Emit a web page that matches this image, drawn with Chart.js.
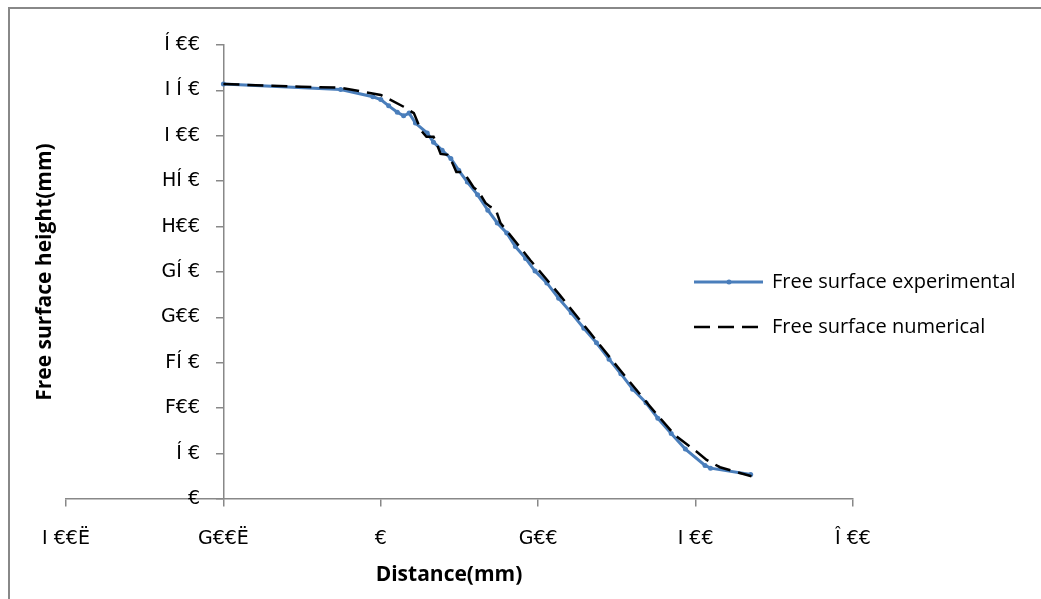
<!DOCTYPE html>
<html>
<head>
<meta charset="utf-8">
<script src="https://cdn.jsdelivr.net/npm/chart.js@4.4.1/dist/chart.umd.min.js"></script>
<style>
  html, body { margin: 0; padding: 0; background: #fff; }
  #wrap { position: relative; width: 1041px; height: 599px; }
</style>
</head>
<body>
<div id="wrap"><canvas id="chart"></canvas></div>
<script>
// tick labels exactly as they appear (font-mapped glyphs)
const xTickValues = [-400, -200, 0, 200, 400, 600];
const xTickLabels = ['I €€Ë', 'G€€Ë', '€', 'G€€', 'I €€', 'Î €€'];
const yTickValues = [0, 50, 100, 150, 200, 250, 300, 350, 400, 450, 500];
const yTickLabels = ['€', 'Í €', 'F€€', 'FÍ €', 'G€€', 'GÍ €', 'H€€', 'HÍ €', 'I €€', 'I Í €', 'Í €€'];

// Free surface experimental
const expX = [-200, -51, -10, 0, 10, 21, 29, 36, 44, 59, 67, 78, 89, 99, 110, 123, 136, 148, 160, 171, 184, 196, 211, 226, 242, 258, 274, 290, 305, 320, 337, 352, 369, 387, 412, 419, 470];
const expY = [457, 451, 443, 440, 433, 426, 422, 425, 414, 403, 393, 384, 375, 362, 349, 335, 318, 304, 293, 278, 265, 251, 238, 221, 205, 188, 172, 154, 138, 121, 106, 89, 72, 55, 37, 34, 27];

// Free surface numerical
const numX = [-200, -101, -51, 0, 29, 42, 51, 58, 67, 72, 76, 85, 91, 96, 105, 112, 118, 124, 133, 139, 146, 152, 190, 228, 266, 304, 342, 374, 403, 414, 431, 471];
const numY = [457, 454, 453, 445, 432, 425, 406, 399, 399, 389, 380, 379, 370, 360, 360, 351, 343, 339, 326, 322, 319, 304, 263, 224, 183, 142, 102, 70, 51, 43, 35, 25];

const toPoints = (xs, ys) => xs.map((x, i) => ({ x: x, y: ys[i] }));

const FONT = "'Open Sans', sans-serif";
const TICK_FONT = "'DejaVu Sans', sans-serif";
const AXIS_GREY = '#888888';

const extrasPlugin = {
    id: 'extras',
    beforeDraw(chart) {
        const ctx = chart.ctx;
        ctx.save();
        ctx.fillStyle = '#ffffff';
        ctx.fillRect(0, 0, chart.width, chart.height);
        ctx.strokeStyle = AXIS_GREY;
        ctx.lineWidth = 2;
        ctx.strokeRect(9, 8, chart.width + 20, chart.height + 20);
        ctx.restore();
    },
    afterDraw(chart) {
        const ctx = chart.ctx;
        const area = chart.chartArea;
        const yScale = chart.scales.y;

        // y tick labels, right aligned left of the tick marks
        ctx.save();
        ctx.fillStyle = '#000';
        ctx.font = '19px ' + TICK_FONT;
        ctx.textAlign = 'right';
        ctx.textBaseline = 'middle';
        yTickValues.forEach((v, i) => {
            ctx.fillText(yTickLabels[i], 200, yScale.getPixelForValue(v));
        });
        ctx.restore();

        // axis titles
        ctx.save();
        ctx.fillStyle = '#000';
        ctx.font = 'bold 21px ' + FONT;
        ctx.textAlign = 'center';
        ctx.textBaseline = 'middle';
        ctx.fillText('Distance(mm)', 449, 575);
        ctx.translate(45, (area.top + area.bottom) / 2);
        ctx.rotate(-Math.PI / 2);
        ctx.fillText('Free surface height(mm)', 0, 0);
        ctx.restore();

        // legend
        ctx.save();
        ctx.font = '20px ' + FONT;
        ctx.textBaseline = 'middle';
        ctx.textAlign = 'left';
        const rows = [282, 327];
        chart.data.datasets.forEach((ds, i) => {
            const y = rows[i];
            ctx.strokeStyle = ds.borderColor;
            ctx.lineWidth = ds.borderWidth;
            ctx.setLineDash(ds.borderDash || []);
            ctx.beginPath();
            ctx.moveTo(694, y);
            ctx.lineTo(763, y);
            ctx.stroke();
            ctx.setLineDash([]);
            if (ds.pointRadius > 0) {
                ctx.fillStyle = ds.pointBackgroundColor;
                ctx.beginPath();
                ctx.arc(729, y, ds.pointRadius, 0, Math.PI * 2);
                ctx.fill();
            }
            ctx.fillStyle = '#000';
            ctx.fillText(ds.label, 772, y);
        });
        ctx.restore();
    }
};

const ctx = document.getElementById('chart').getContext('2d');

new Chart(ctx, {
    type: 'scatter',
    data: {
        datasets: [{
            label: 'Free surface experimental',
            data: toPoints(expX, expY),
            showLine: true,
            borderColor: '#4a7ebb',
            backgroundColor: '#4a7ebb',
            pointBackgroundColor: '#4a7ebb',
            pointBorderColor: '#4a7ebb',
            borderWidth: 3,
            pointRadius: 2.5,
            pointBorderWidth: 0,
            order: 2
        }, {
            label: 'Free surface numerical',
            data: toPoints(numX, numY),
            showLine: true,
            borderColor: '#000000',
            backgroundColor: '#000000',
            borderWidth: 2.5,
            borderDash: [16, 8],
            pointRadius: 0,
            order: 1
        }]
    },
    options: {
        responsive: true,
        maintainAspectRatio: false,
        animation: false,
        layout: {
            padding: { left: 66, right: 188, top: 45, bottom: 100 }
        },
        scales: {
            x: {
                type: 'linear',
                min: -400,
                max: 600,
                position: { y: 0 },
                afterBuildTicks: (scale) => { scale.ticks = xTickValues.map(v => ({ value: v })); },
                ticks: {
                    callback: (v) => xTickLabels[xTickValues.indexOf(v)],
                    color: '#000',
                    font: { family: TICK_FONT, size: 19 },
                    padding: 22,
                    maxRotation: 0,
                    autoSkip: false
                },
                grid: { drawOnChartArea: false, drawTicks: true, tickLength: 7, color: AXIS_GREY, lineWidth: 1.5 },
                border: { display: true, color: AXIS_GREY, width: 1.5 }
            },
            y: {
                type: 'linear',
                min: 0,
                max: 500,
                position: { x: -200 },
                afterBuildTicks: (scale) => { scale.ticks = yTickValues.map(v => ({ value: v })); },
                ticks: { display: false },
                grid: { drawOnChartArea: false, drawTicks: true, tickLength: 7, color: AXIS_GREY, lineWidth: 1.5 },
                border: { display: true, color: AXIS_GREY, width: 1.5 }
            }
        },
        plugins: {
            legend: { display: false },
            tooltip: { enabled: false }
        }
    },
    plugins: [extrasPlugin]
});
</script>
</body>
</html>
